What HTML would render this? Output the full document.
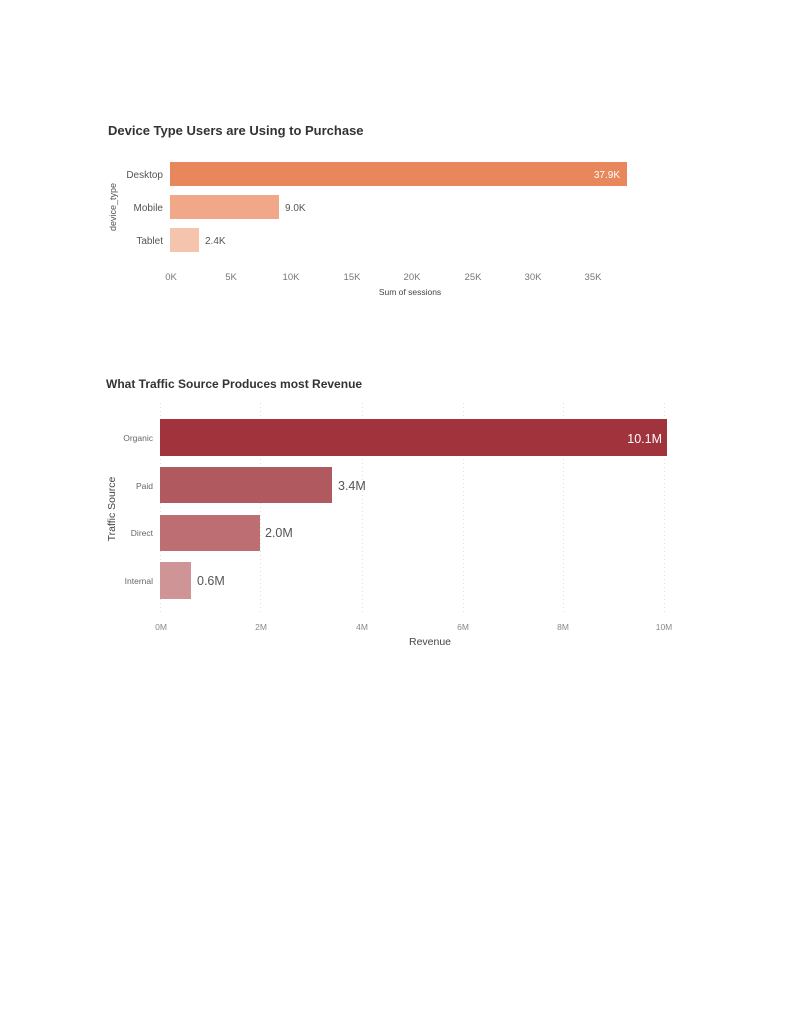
<!DOCTYPE html>
<html><head><meta charset="utf-8"><style>
html,body{margin:0;padding:0;background:#fff;}
svg{display:block;font-family:"Liberation Sans",sans-serif;}
</style></head><body>
<svg width="792" height="1024" viewBox="0 0 792 1024" xmlns="http://www.w3.org/2000/svg">
<rect width="792" height="1024" fill="#fff"/>
<!-- Chart 1 -->
<text x="108" y="135" font-size="13" fill="#333" font-weight="bold" style="font-weight:600">Device Type Users are Using to Purchase</text>
<rect x="170" y="162" width="457" height="24" fill="#E8875C"/>
<rect x="170" y="195" width="109" height="24" fill="#F0A888"/>
<rect x="170" y="228" width="29" height="24" fill="#F5C4AC"/>
<g font-size="10" fill="#555" text-anchor="end">
<text x="163" y="178">Desktop</text>
<text x="163" y="211">Mobile</text>
<text x="163" y="244">Tablet</text>
</g>
<text x="620" y="178" font-size="10" fill="#fff" text-anchor="end">37.9K</text>
<text x="285" y="211" font-size="10" fill="#555">9.0K</text>
<text x="205" y="244" font-size="10" fill="#555">2.4K</text>
<text transform="translate(116,207) rotate(-90)" font-size="9" fill="#555" text-anchor="middle">device_type</text>
<g font-size="9.5" fill="#777" text-anchor="middle">
<text x="171" y="280">0K</text><text x="231" y="280">5K</text><text x="291" y="280">10K</text><text x="352" y="280">15K</text><text x="412" y="280">20K</text><text x="473" y="280">25K</text><text x="533" y="280">30K</text><text x="593" y="280">35K</text>
</g>
<text x="410" y="295" font-size="8.5" fill="#444" text-anchor="middle">Sum of sessions</text>
<!-- Chart 2 -->
<text x="106" y="388" font-size="12" fill="#333" style="font-weight:600">What Traffic Source Produces most Revenue</text>
<g stroke="#ddd" stroke-width="1" stroke-dasharray="1,3">
<line x1="160.5" y1="403" x2="160.5" y2="612"/><line x1="260.5" y1="403" x2="260.5" y2="612"/><line x1="362.5" y1="403" x2="362.5" y2="612"/><line x1="463.5" y1="403" x2="463.5" y2="612"/><line x1="563.5" y1="403" x2="563.5" y2="612"/><line x1="664.5" y1="403" x2="664.5" y2="612"/>
</g>
<rect x="160" y="419" width="507" height="37" fill="#A0333B"/>
<rect x="160" y="467" width="172" height="36" fill="#B05A60"/>
<rect x="160" y="515" width="100" height="36" fill="#BC6E72"/>
<rect x="160" y="562" width="31" height="37" fill="#CF9496"/>
<g font-size="8.5" fill="#666" text-anchor="end">
<text x="153" y="441">Organic</text><text x="153" y="489">Paid</text><text x="153" y="536">Direct</text><text x="153" y="584">Internal</text>
</g>
<text x="662" y="443" font-size="12.5" fill="#fff" text-anchor="end">10.1M</text>
<text x="338" y="490" font-size="12.5" fill="#555">3.4M</text>
<text x="265" y="537" font-size="12.5" fill="#555">2.0M</text>
<text x="197" y="585" font-size="12.5" fill="#555">0.6M</text>
<text transform="translate(115,509) rotate(-90)" font-size="10.5" fill="#444" text-anchor="middle">Traffic Source</text>
<g font-size="8.5" fill="#888" text-anchor="middle">
<text x="161" y="630">0M</text><text x="261" y="630">2M</text><text x="362" y="630">4M</text><text x="463" y="630">6M</text><text x="563" y="630">8M</text><text x="664" y="630">10M</text>
</g>
<text x="430" y="645" font-size="10.5" fill="#444" text-anchor="middle">Revenue</text>
</svg>
</body></html>
